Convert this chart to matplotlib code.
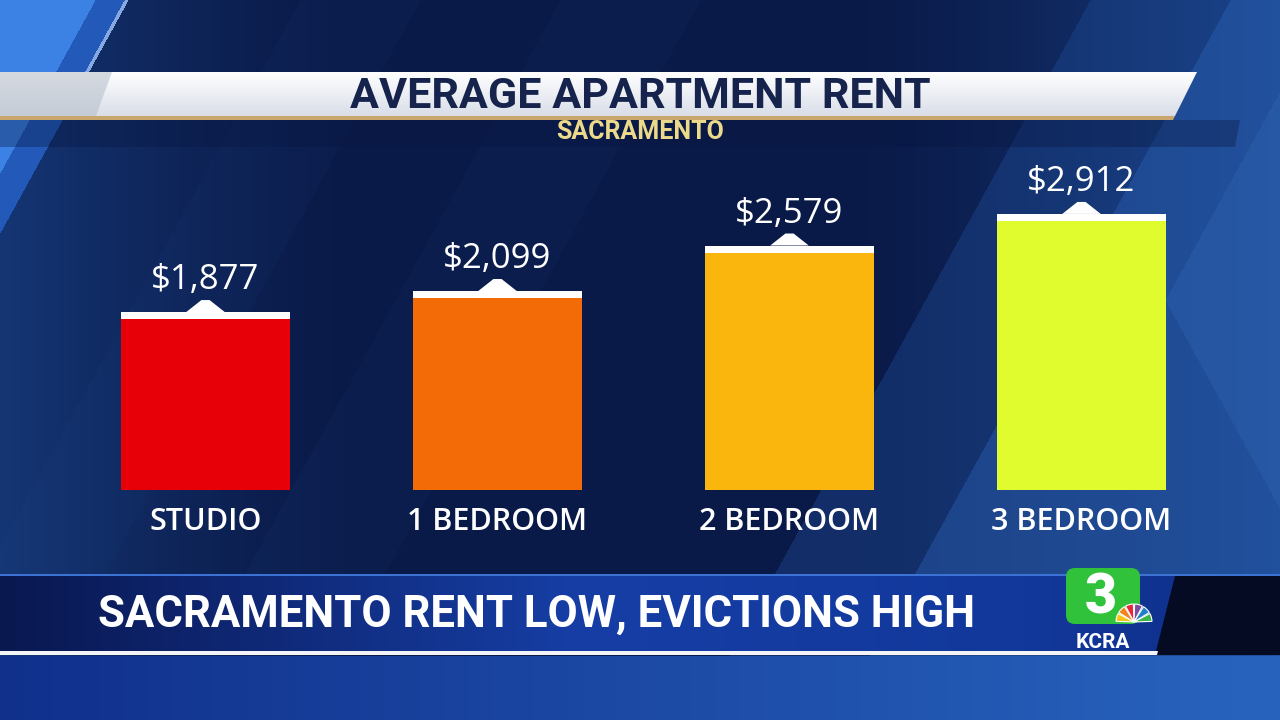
import numpy as np
import matplotlib
matplotlib.use('Agg')
import matplotlib.pyplot as plt
from matplotlib.patches import Polygon, Rectangle, FancyBboxPatch, Wedge

# ---------------- data ----------------
categories = ['STUDIO', '1 BEDROOM', '2 BEDROOM', '3 BEDROOM']
rents = [1877, 2099, 2579, 2912]
value_labels = ['$1,877', '$2,099', '$2,579', '$2,912']
bar_colors = ['#e80008', '#f26b06', '#fab60d', '#e0fb2e']
title = 'AVERAGE APARTMENT RENT'
subtitle = 'SACRAMENTO'
headline = 'SACRAMENTO RENT LOW, EVICTIONS HIGH'
station = 'KCRA'

W, H = 1280, 720
fig = plt.figure(figsize=(12.8, 7.2), dpi=100)
bg = fig.add_axes([0, 0, 1, 1])
bg.axis('off')

# ---------------- background ----------------
yy, xx = np.mgrid[0:H, 0:W].astype(float)
navy = np.array([10, 26, 72]) / 255
blue = np.array([34, 88, 170]) / 255
t = np.clip((np.abs(xx - 600) - 250) / 650, 0, 1) ** 1.3
img = navy * (1 - t[..., None]) + blue * t[..., None]
u = xx + 0.55 * yy
v = xx - 0.55 * yy

def mix(mask, col, a):
    col = np.array(col) / 255
    img[mask] = img[mask] * (1 - a) + col * a

mix((u > 560) & (u < 700), (40, 90, 170), 0.06)
mix((u > 300) & (u < 420), (40, 90, 170), 0.05)
mix(u > 1090, (30, 75, 150), 0.4)
mix(u > 1230, (45, 100, 185), 0.4)
mix((u > 1330) & (v > 1000), (60, 120, 200), 0.2)
mix(u < 128, (35, 90, 185), 1.0)
mix(u < 95, (60, 130, 228), 1.0)
mix((u > 124) & (u < 128) & (yy < 72), (200, 220, 255), 0.6)
below = yy > 655
bcol = (np.array([16, 48, 140]) / 255) * (1 - xx[..., None] / W) + (np.array([40, 100, 190]) / 255) * (xx[..., None] / W)
img[below] = bcol[below]
bg.imshow(img, extent=(0, W, H, 0), zorder=0, interpolation='bilinear')

# ---------------- title banner ----------------
grad = np.linspace(0, 1, 60)[:, None, None]
gimg = np.array([1, 1, 1]) * (1 - grad) + np.array([0.85, 0.87, 0.91]) * grad
gimg = np.repeat(gimg, 2, axis=1)
tb = Polygon([(0, 72), (1197, 72), (1175, 116), (0, 116)], closed=True,
             facecolor='none', edgecolor='none', zorder=2)
bg.add_patch(tb)
im = bg.imshow(gimg, extent=(0, 1200, 116, 72), aspect='auto', zorder=2)
im.set_clip_path(tb)
bg.add_patch(Polygon([(0, 72), (112, 72), (96, 116), (0, 116)], closed=True,
                     facecolor='#b9c1cc', alpha=0.6, edgecolor='none', zorder=3))
bg.add_patch(Polygon([(0, 116), (1175, 116), (1173, 120), (0, 120)], closed=True,
                     facecolor='#c9a66c', edgecolor='none', zorder=3))
bg.add_patch(Polygon([(0, 120), (1240, 120), (1235, 147), (0, 147)], closed=True,
                     facecolor='#081640', alpha=0.35, edgecolor='none', zorder=1))
bg.text(640, 108, title, ha='center', va='baseline', fontsize=31,
        fontweight='bold', family='Roboto', color='#15234d', zorder=4)
bg.text(640, 139, subtitle, ha='center', va='baseline', fontsize=18,
        fontweight='bold', family='Roboto', color='#ecd98a', zorder=4)

# ---------------- bottom banner ----------------
bgrad = np.linspace(0, 1, 300)
r = np.interp(bgrad, [0, 0.08, 0.45, 0.8, 1], [10, 12, 22, 18, 14])
g = np.interp(bgrad, [0, 0.08, 0.45, 0.8, 1], [24, 30, 62, 56, 46])
b = np.interp(bgrad, [0, 0.08, 0.45, 0.8, 1], [80, 95, 165, 155, 135])
bimg = np.stack([r, g, b], axis=-1)[None, :, :] / 255
bimg = np.repeat(bimg, 2, axis=0)
bg.imshow(bimg, extent=(0, 1280, 652, 575), aspect='auto', zorder=2)
bg.add_patch(Rectangle((0, 574), 1280, 2, facecolor='#3c72d4', edgecolor='none', zorder=3))
bg.add_patch(Polygon([(1175, 576), (1280, 576), (1280, 655), (1155, 655)], closed=True,
                     facecolor='#050b22', edgecolor='none', zorder=3))
bg.add_patch(Polygon([(0, 651), (1158, 651), (1157, 655), (0, 655)], closed=True,
                     facecolor='#f2f4f8', edgecolor='none', zorder=3))
bg.text(98, 627, headline, ha='left', va='baseline', fontsize=31.5,
        fontweight='bold', family='Roboto', color='white', zorder=4)

# logo
bg.add_patch(FancyBboxPatch((1066, 568), 74, 56, boxstyle='round,pad=0,rounding_size=9',
                            facecolor='#2fc23a', edgecolor='none', zorder=5))
bg.text(1101, 614, '3', ha='center', va='baseline', fontsize=40, fontweight='black',
        family='Roboto', color='white', zorder=6)
pea = ['#f6c319', '#f58220', '#e8263c', '#7c4ea0', '#1e80c8', '#3bb44a']
for k, c in enumerate(pea):
    a0 = 180 + k * 30
    bg.add_patch(Wedge((1134, 622), 18, a0 + 2, a0 + 28, facecolor=c,
                       edgecolor='white', linewidth=0.8, zorder=7))
bg.text(1103, 648, station, ha='center', va='baseline', fontsize=15, fontweight='bold',
        family='Roboto', color='white', zorder=6)

bg.set_xlim(0, W)
bg.set_ylim(H, 0)

# ---------------- bar chart ----------------
px_per_unit = 0.0948
ymax = 3300
ax = fig.add_axes([0, (H - 490) / H, 1, ymax * px_per_unit / H])
ax.patch.set_alpha(0)
ax.axis('off')
slot = 292
ax.set_xlim(-205.5 / slot, (W - 205.5) / slot)
ax.set_ylim(0, ymax)

x = np.arange(len(categories))
width = 169 / slot
cap = 7 / px_per_unit
tri_h = 12 / px_per_unit
ax.bar(x, rents, width=width, color=bar_colors, zorder=2)
ax.bar(x, [cap] * len(rents), bottom=np.array(rents) - cap, width=width,
       color='white', zorder=3)
for xi, val in zip(x, rents):
    ax.add_patch(Polygon([(xi - 0.066, val), (xi - 0.014, val + tri_h),
                          (xi + 0.014, val + tri_h), (xi + 0.066, val)],
                         closed=True, facecolor='white', edgecolor='none',
                         zorder=3, clip_on=False))
for xi, val, lab, cat in zip(x, rents, value_labels, categories):
    ax.annotate(lab, (xi, val), xytext=(0, 16.5), textcoords='offset points',
                ha='center', va='baseline', color='white', fontsize=25,
                fontweight='medium', family='Open Sans', annotation_clip=False)
    ax.annotate(cat, (xi, 0), xytext=(0, -28.8), textcoords='offset points',
                ha='center', va='baseline', color='white', fontsize=22,
                fontweight='semibold', family='Open Sans', annotation_clip=False)

fig.savefig('out.png', dpi=100)
